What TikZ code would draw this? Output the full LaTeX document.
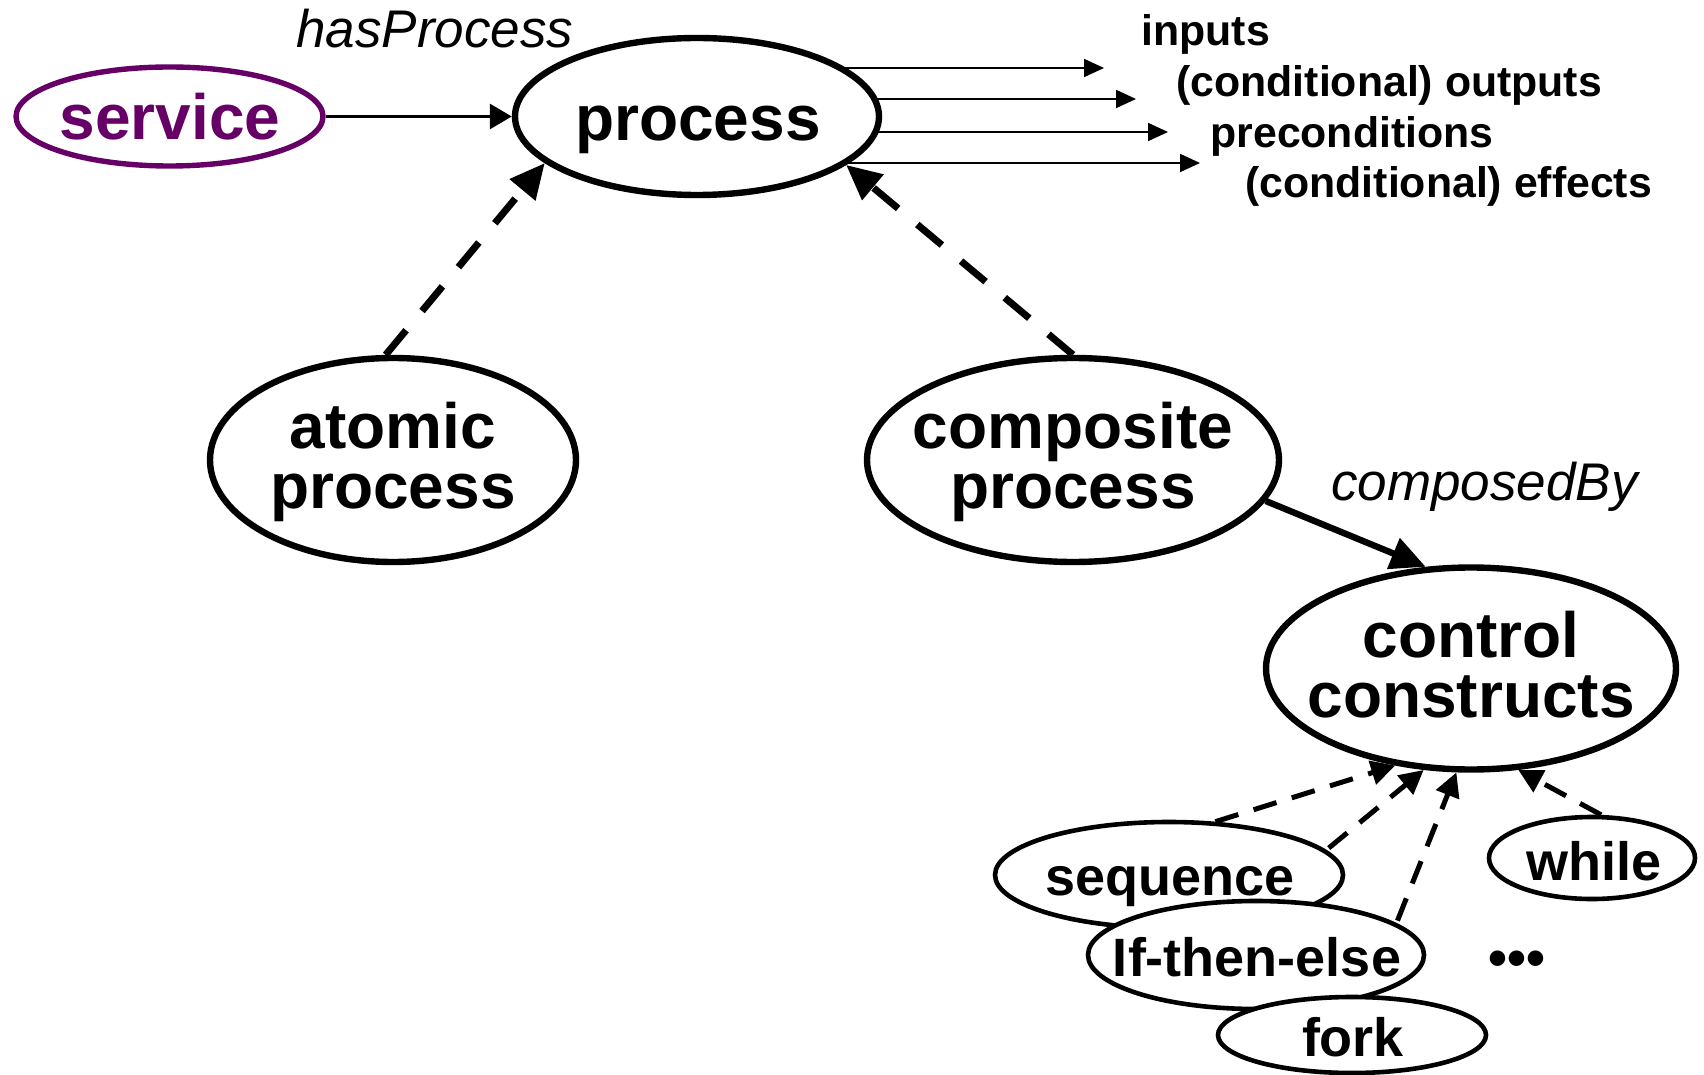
\documentclass[tikz,border=0pt]{standalone}
\usepackage{fontspec}
\setmainfont{Liberation Sans}
\usetikzlibrary{shapes.geometric,arrows.meta,backgrounds}
\definecolor{svcpurple}{HTML}{660066}
\begin{document}
\begin{tikzpicture}[x=0.5pt,y=-0.5pt,
  oval/.style={ellipse, draw, fill=white, inner sep=0pt},
  bigoval/.style={oval, line width=3.2pt},
  smalloval/.style={oval, line width=2.3pt},
  bigtext/.style={inner sep=0pt, align=center, font=\bfseries\fontsize{32}{30}\selectfont},
  smalltext/.style={inner sep=0pt, anchor=base, font=\bfseries\fontsize{27}{30}\selectfont},
  listtext/.style={inner sep=0pt, anchor=base west, font=\bfseries\fontsize{21.4}{25}\selectfont},
  reltext/.style={inner sep=0pt, anchor=base west, font=\itshape\fontsize{26.5}{30}\selectfont},
  thinarrow/.style={line width=1pt, -{Triangle[length=10pt,width=9pt]}},
  hasarrow/.style={line width=1.5pt, -{Triangle[length=11pt,width=12.5pt]}},
  bigsub/.style={line width=3.5pt, dash pattern=on 16pt off 12.5pt, -{Triangle[length=17.5pt,width=16pt]}},
  composed/.style={line width=3.2pt, -{Triangle[length=17.5pt,width=16pt]}},
  smallsub/.style={line width=2.5pt, dash pattern=on 12pt off 8pt, -{Triangle[length=12pt,width=12pt]}},
]
\useasboundingbox (0,0) rectangle (1704,1075);

% ellipses
\node[oval, line width=2.7pt, draw=svcpurple, minimum width=153.5pt, minimum height=49.5pt] (service) at (169.5,116.5) {};
\node[bigoval, minimum width=182pt, minimum height=78.5pt] (process) at (697,116.5) {};
\node[bigoval, minimum width=183pt, minimum height=102pt] (atomic) at (393,460) {};
\node[bigoval, minimum width=206pt, minimum height=102pt] (composite) at (1073,460) {};
\node[bigoval, minimum width=205pt, minimum height=101pt] (control) at (1471,668.5) {};
\node[smalloval, minimum width=174pt, minimum height=53pt] (sequence) at (1169,875) {};
\node[smalloval, minimum width=168pt, minimum height=54pt] (ite) at (1256,955) {};
\node[smalloval, minimum width=134pt, minimum height=38pt] (fork) at (1352,1035) {};
\node[smalloval, minimum width=103pt, minimum height=41pt] (while) at (1592,858) {};

% ellipse labels
\node[bigtext, anchor=base, text=svcpurple] (serviceText) at (170,140) {service};
\node[bigtext, anchor=base] (processText) at (698,141) {process};
\node[bigtext] (atomicText) at (393,462) {atomic\\process};
\node[bigtext] (compositeText) at (1073,462) {composite\\process};
\node[bigtext] (controlText) at (1471,665) {control\\constructs};
\node[smalltext] (sequenceText) at (1170,895) {sequence};
\node[smalltext] (iteText) at (1257,976) {If-then-else};
\node[smalltext] (forkText) at (1353,1056) {fork};
\node[smalltext] (whileText) at (1594,880) {while};
\node[smalltext] (moreText) at (1517,976) {•••};

% relation names
\node[reltext] (hasProcessText) at (296,48) {hasProcess};
\node[reltext] (composedByText) at (1331,500) {composedBy};

% process parameters
\node[listtext] (inputsText) at (1141,46) {inputs};
\node[listtext] (outputsText) at (1176,97) {(conditional) outputs};
\node[listtext] (precondText) at (1210,148) {preconditions};
\node[listtext] (effectsText) at (1245,198) {(conditional) effects};

\coordinate (inputsTip) at (1104,68);
\coordinate (outputsTip) at (1136,99);
\coordinate (precondTip) at (1168,132);
\coordinate (effectsTip) at (1200,163);

\begin{scope}[on background layer]
  \draw[thinarrow] (process.center |- inputsTip) -- (inputsTip);
  \draw[thinarrow] (process.center |- outputsTip) -- (outputsTip);
  \draw[thinarrow] (process.center |- precondTip) -- (precondTip);
  \draw[thinarrow] (process.center |- effectsTip) -- (effectsTip);

  \draw[hasarrow] (service.east) -- (process.west);
  \draw[bigsub] (atomic.94.2) -- (process.197.6);
  \draw[bigsub] (composite.90) -- (process.342.8);
  \draw[composed] (composite.348.3) -- (control.114.7);

  \draw[smallsub] (sequence.49) -- (control.232.2);
  \draw[smallsub] (ite.79) -- (control.245.3);
  \draw[smallsub] (fork) -- (control.262.5);
  \draw[smallsub] (while.78.7) -- (control.295.1);
\end{scope}
\end{tikzpicture}
\end{document}
